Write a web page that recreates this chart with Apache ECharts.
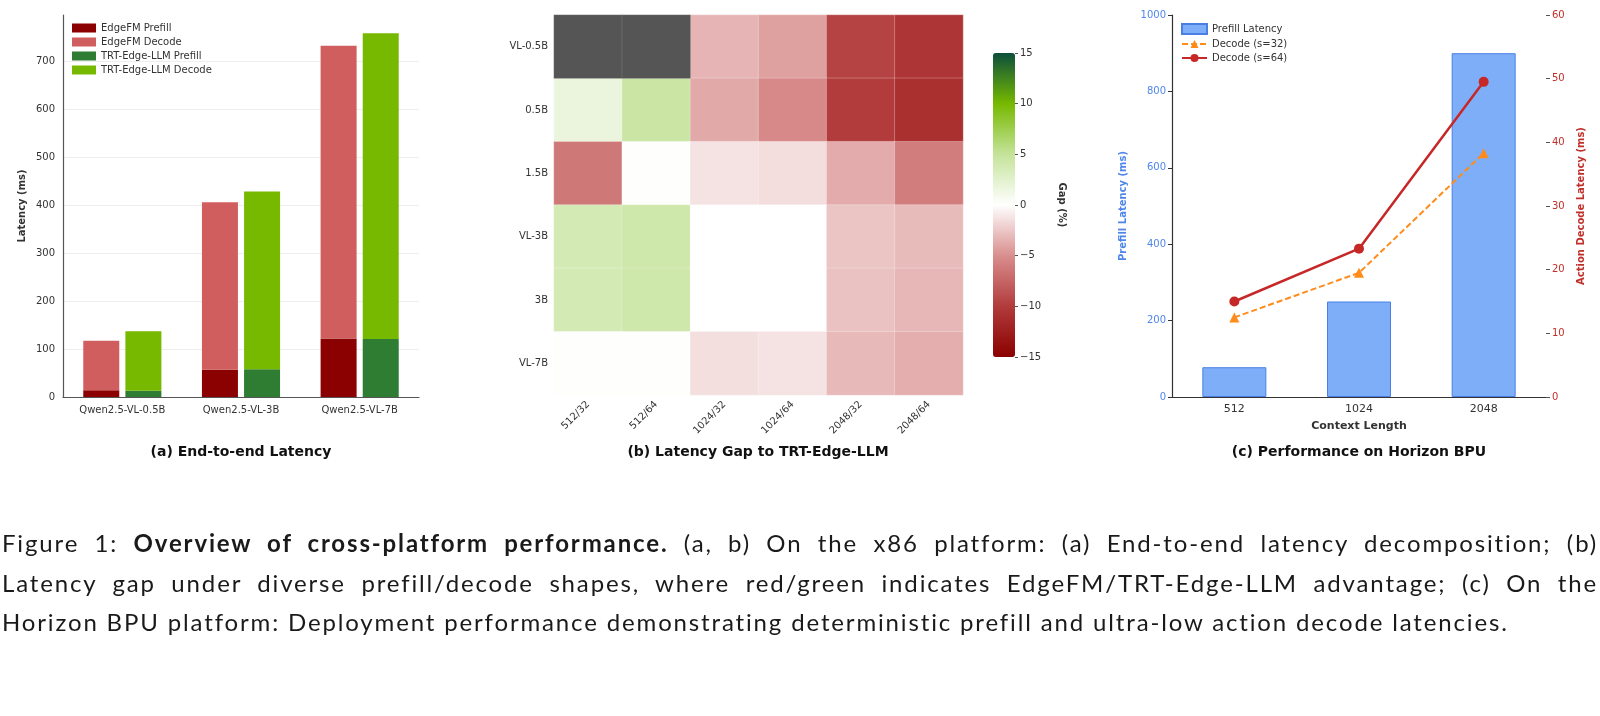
<!DOCTYPE html>
<html lang="en">
<head>
<meta charset="UTF-8">
<title>Overview of cross-platform performance</title>
<script src="https://cdn.jsdelivr.net/npm/echarts@6/dist/echarts.min.js"></script>
<style>
  body { margin: 0; background: #fff; }
  #wrap { position: relative; width: 1600px; height: 716px; }
  #main { position: absolute; left: 0; top: 0; width: 1600px; height: 716px; }
  #caption {
    position: absolute; left: 2px; top: 523px; width: 1596px;
    font-family: Lato, "Noto Sans", sans-serif; font-size: 24px; letter-spacing: 1.85px;
    line-height: 39.5px; color: #1a1a1a;
  }
  #caption div { text-align: justify; text-align-last: justify; white-space: nowrap; }
  #caption div.last { text-align-last: left; }
</style>
</head>
<body>
<div id="wrap">
  <div id="main"></div>
  <div id="caption">
    <div>Figure 1: <b>Overview of cross-platform performance.</b> (a, b) On the x86 platform: (a) End-to-end latency decomposition; (b)</div>
    <div>Latency gap under diverse prefill/decode shapes, where red/green indicates EdgeFM/TRT-Edge-LLM advantage; (c) On the</div>
    <div class="last">Horizon BPU platform: Deployment performance demonstrating deterministic prefill and ultra-low action decode latencies.</div>
  </div>
</div>
<script>
// (a) end-to-end latency, ms
var models = ['Qwen2.5-VL-0.5B', 'Qwen2.5-VL-3B', 'Qwen2.5-VL-7B'];
var edgePrefill = [14, 57, 122];
var edgeDecode = [103, 349, 610];
var trtPrefill = [13, 58, 121];
var trtDecode = [124, 370, 637];

// (b) latency gap (%), null = no data
var shapes = ['512/32', '512/64', '1024/32', '1024/64', '2048/32', '2048/64'];
var gapModels = ['VL-0.5B', '0.5B', '1.5B', 'VL-3B', '3B', 'VL-7B'];
var gapValues = [
  [null, null, -3.3, -4.2, -9.5, -10.5],
  [1.7, 4.5, -3.8, -5.3, -10, -11],
  [-6.3, 0.1, -1.3, -1.5, -3.7, -6],
  [3.7, 4.2, 0.05, 0.05, -2.6, -3],
  [3.7, 4.2, 0.05, 0.05, -2.7, -3.2],
  [0.1, 0.1, -1.4, -1.3, -3.1, -3.6]
];

// (c) Horizon BPU
var contextLen = ['512', '1024', '2048'];
var prefillLatency = [78, 250, 900];
var decode32 = [12.5, 19.5, 38.3];
var decode64 = [15, 23.3, 49.5];

var heatData = [], nanData = [];
gapValues.forEach(function (row, r) {
  row.forEach(function (v, c) {
    if (v === null) nanData.push([c, r, 0]);
    else heatData.push([c, r, v]);
  });
});

var font = 'DejaVu Sans';
var blue = '#4f86ec';
var red = '#c0302a';

var myChart = echarts.init(document.getElementById('main'));

var option = {
  animation: false,
  backgroundColor: '#fff',
  textStyle: { fontFamily: font },
  grid: [
    { left: 63, top: 15, width: 356, height: 382 },
    { left: 554, top: 15, width: 409, height: 380 },
    { left: 993, top: 53, width: 22, height: 304 },
    { left: 1172, top: 15, width: 374, height: 382 }
  ],
  legend: [
    {
      data: ['EdgeFM Prefill', 'EdgeFM Decode', 'TRT-Edge-LLM Prefill', 'TRT-Edge-LLM Decode'],
      orient: 'vertical', left: 72, top: 23, padding: 0, itemGap: 4,
      itemWidth: 24, itemHeight: 9, icon: 'rect',
      textStyle: { fontSize: 10, color: '#333', fontFamily: font }
    },
    {
      data: [{ name: 'Prefill Latency', icon: 'rect' }, 'Decode (s=32)', 'Decode (s=64)'],
      orient: 'vertical', left: 1181, top: 23, padding: 0, itemGap: 4,
      itemWidth: 25, itemHeight: 10,
      textStyle: { fontSize: 10, color: '#333', fontFamily: font }
    }
  ],
  xAxis: [
    {
      gridIndex: 0, type: 'category', data: models,
      axisLine: { lineStyle: { color: '#555', width: 1.2 } },
      axisTick: { alignWithLabel: true, length: 4, lineStyle: { color: '#555' } },
      axisLabel: { interval: 0, fontSize: 10, color: '#333', margin: 8 }
    },
    {
      gridIndex: 1, type: 'category', data: shapes,
      axisLine: { show: false }, axisTick: { show: false },
      axisLabel: { interval: 0, rotate: 45, fontSize: 10, color: '#333', margin: 8 }
    },
    { gridIndex: 2, type: 'category', data: [''], show: false },
    {
      gridIndex: 3, type: 'category', data: contextLen,
      name: 'Context Length', nameLocation: 'middle', nameGap: 24,
      nameTextStyle: { fontSize: 11, fontWeight: 'bold', color: '#333' },
      axisLine: { lineStyle: { color: '#333', width: 1.2 } },
      axisTick: { alignWithLabel: true, length: 4, lineStyle: { color: '#333' } },
      axisLabel: { fontSize: 11, color: '#333', margin: 7 }
    }
  ],
  yAxis: [
    {
      gridIndex: 0, type: 'value', min: 0, max: 796, interval: 100,
      name: 'Latency (ms)', nameLocation: 'middle', nameGap: 36,
      nameTextStyle: { fontSize: 10, fontWeight: 'bold', color: '#333' },
      axisLine: { show: true, lineStyle: { color: '#555', width: 1.2 } },
      axisTick: { show: false },
      axisLabel: { fontSize: 10, color: '#333', showMaxLabel: false, margin: 8 },
      splitLine: { lineStyle: { color: ['#eee', '#eee', '#eee', '#eee', '#eee', '#eee', '#eee', '#eee', 'rgba(0,0,0,0)'] } }
    },
    {
      gridIndex: 1, type: 'category', data: gapModels, inverse: true,
      axisLine: { show: false }, axisTick: { show: false },
      axisLabel: { fontSize: 10, color: '#333', margin: 6 }
    },
    {
      gridIndex: 2, type: 'value', min: -15, max: 15, interval: 5, position: 'right',
      name: 'Gap (%)', nameLocation: 'middle', nameGap: 42, nameRotate: -90,
      nameTextStyle: { fontSize: 10, fontWeight: 'bold', color: '#333' },
      axisLine: { show: false },
      axisTick: { show: true, length: 3, lineStyle: { color: '#555' } },
      axisLabel: { fontSize: 10, color: '#333', margin: 5,
        formatter: function (v) { return String(v).replace('-', '\u2212'); } },
      splitLine: { show: false }
    },
    {
      gridIndex: 3, type: 'value', min: 0, max: 1000, interval: 200,
      name: 'Prefill Latency (ms)', nameLocation: 'middle', nameGap: 44,
      nameTextStyle: { fontSize: 10, fontWeight: 'bold', color: blue },
      axisLine: { show: true, lineStyle: { color: '#333', width: 1.2 } },
      axisTick: { show: true, length: 4, lineStyle: { color: '#333' } },
      axisLabel: { fontSize: 10, color: blue, margin: 6, formatter: function (v) { return String(v); } },
      splitLine: { show: false }
    },
    {
      gridIndex: 3, type: 'value', min: 0, max: 60, interval: 10, position: 'right',
      name: 'Action Decode Latency (ms)', nameLocation: 'middle', nameGap: 30, nameRotate: 90,
      nameTextStyle: { fontSize: 10, fontWeight: 'bold', color: red },
      axisLine: { show: false },
      axisTick: { show: true, length: 4, lineStyle: { color: '#555' } },
      axisLabel: { fontSize: 10, color: red, margin: 6 },
      splitLine: { show: false }
    }
  ],
  visualMap: {
    type: 'continuous', seriesIndex: 4, min: -15, max: 15,
    left: 993, top: 53, itemWidth: 22, itemHeight: 304, padding: 0,
    calculable: false, text: null, showLabel: false, hoverLink: false,
    inRange: { color: ['#8b0000', '#b23b3b', '#d98e8e', '#ffffff', '#c5e39a', '#76b900', '#0b4f3c'] }
  },
  graphic: [
    { type: 'text', x: 241, y: 452, style: { text: '(a) End-to-end Latency', font: 'bold 14px "DejaVu Sans"', fill: '#111', align: 'center', verticalAlign: 'middle' } },
    { type: 'text', x: 758, y: 452, style: { text: '(b) Latency Gap to TRT-Edge-LLM', font: 'bold 14px "DejaVu Sans"', fill: '#111', align: 'center', verticalAlign: 'middle' } },
    { type: 'text', x: 1359, y: 452, style: { text: '(c) Performance on Horizon BPU', font: 'bold 14px "DejaVu Sans"', fill: '#111', align: 'center', verticalAlign: 'middle' } }
  ],
  series: [
    { name: 'EdgeFM Prefill', type: 'bar', xAxisIndex: 0, yAxisIndex: 0, stack: 'edge', data: edgePrefill,
      barWidth: 36, barGap: '17%', itemStyle: { color: '#8b0000' } },
    { name: 'EdgeFM Decode', type: 'bar', xAxisIndex: 0, yAxisIndex: 0, stack: 'edge', data: edgeDecode,
      itemStyle: { color: '#d05e5e' } },
    { name: 'TRT-Edge-LLM Prefill', type: 'bar', xAxisIndex: 0, yAxisIndex: 0, stack: 'trt', data: trtPrefill,
      barWidth: 36, itemStyle: { color: '#2e7d32' } },
    { name: 'TRT-Edge-LLM Decode', type: 'bar', xAxisIndex: 0, yAxisIndex: 0, stack: 'trt', data: trtDecode,
      itemStyle: { color: '#76b900' } },
    { name: 'Gap', type: 'heatmap', xAxisIndex: 1, yAxisIndex: 1, data: heatData,
      itemStyle: { borderColor: 'rgba(255,255,255,0.45)', borderWidth: 0.6 } },
    { name: 'N/A', type: 'heatmap', xAxisIndex: 1, yAxisIndex: 1, data: nanData,
      itemStyle: { color: '#555555', borderColor: 'rgba(255,255,255,0.2)', borderWidth: 0.6 } },
    { name: 'Prefill Latency', type: 'bar', xAxisIndex: 3, yAxisIndex: 3, data: prefillLatency,
      barWidth: 64, itemStyle: { color: '#7eaef8', borderColor: '#4a80e6', borderWidth: 1 } },
    { name: 'Decode (s=32)', type: 'line', xAxisIndex: 3, yAxisIndex: 4, data: decode32,
      symbol: 'triangle', symbolSize: 10, lineStyle: { color: '#ff8c1a', width: 2, type: [6, 3] },
      itemStyle: { color: '#ff8c1a' } },
    { name: 'Decode (s=64)', type: 'line', xAxisIndex: 3, yAxisIndex: 4, data: decode64,
      symbol: 'circle', symbolSize: 10, lineStyle: { color: '#c62828', width: 2.5 },
      itemStyle: { color: '#c62828' } }
  ]
};

myChart.setOption(option);
</script>
</body>
</html>
